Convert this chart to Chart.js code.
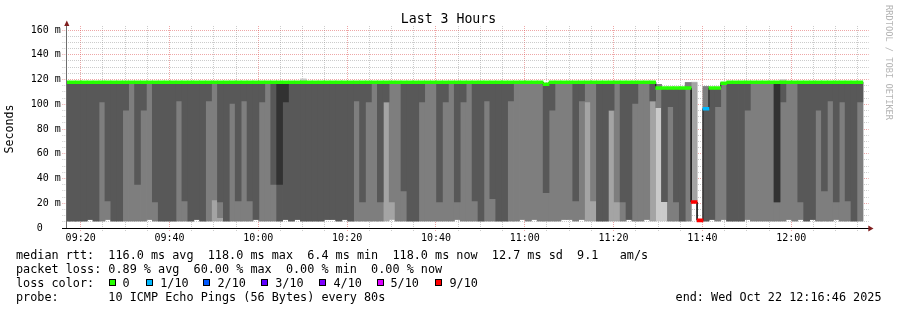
<!DOCTYPE html>
<html><head><meta charset="utf-8">
<script src="https://cdn.jsdelivr.net/npm/chart.js@4.4.1/dist/chart.umd.min.js"></script>
<style>
html,body{margin:0;padding:0;background:#fff;}
#wrap{position:relative;width:897px;height:310px;overflow:hidden;font-family:'DejaVu Sans Mono',monospace;color:#000;}
canvas{position:absolute;left:0;top:0;}
.t{position:absolute;white-space:pre;font-size:11.8px;line-height:14px;}
.box{position:absolute;width:5px;height:5px;border:1px solid #000;top:279px;}
.wm{position:absolute;left:883.5px;top:5px;writing-mode:vertical-rl;font-size:8.7px;line-height:10px;color:#b4b4b4;white-space:pre;}
</style></head><body>
<div id="wrap">
<canvas id="c" width="897" height="310"></canvas>
<div class="t" style="left:0;top:11px;width:897px;text-align:center;font-size:13.2px;line-height:16px">Last 3 Hours</div>
<div class="wm">RRDTOOL / TOBI OETIKER</div>
<div id="legend"></div>
</div>
<script>
// ---------- data (one value per 80 s probe step, 135 steps) ----------
const minPing = [
5.7,5.7,5.7,5.7,7.0,5.7,5.7,7.0,5.7,5.7,
5.7,5.7,5.7,5.7,7.0,5.7,5.7,5.7,5.7,5.7,
5.7,5.7,7.0,5.7,5.7,5.7,5.7,5.7,5.7,5.7,
5.7,5.7,7.0,5.7,5.7,5.7,5.7,7.0,5.7,7.0,
5.7,5.7,5.7,5.7,7.0,7.0,5.7,7.0,5.7,5.7,
5.7,5.7,5.7,5.7,5.7,7.0,5.7,5.7,5.7,5.7,
5.7,5.7,5.7,5.7,5.7,5.7,7.0,5.7,5.7,5.7,
5.7,5.7,5.7,5.7,5.7,5.7,5.7,7.0,5.7,7.0,
5.7,5.7,5.7,5.7,7.0,7.0,5.7,7.0,5.7,5.7,
5.7,5.7,5.7,5.7,5.7,7.0,5.7,5.7,7.0,5.7,
5.7,5.7,5.7,5.7,5.7,5.7,21.0,null,5.7,7.0,
5.7,7.0,5.7,5.7,5.7,7.0,5.7,5.7,5.7,5.7,
5.7,5.7,7.0,5.7,7.0,5.7,7.0,5.7,5.7,5.7,
7.0,5.7,5.7,5.7,5.7];
const ping2 = [
5.7,5.7,5.7,5.7,7.0,5.7,5.7,7.0,5.7,5.7,
5.7,5.7,5.7,5.7,7.0,5.7,5.7,5.7,5.7,5.7,
5.7,5.7,7.0,5.7,5.7,5.7,5.7,5.7,5.7,5.7,
5.7,5.7,7.0,5.7,5.7,5.7,5.7,7.0,5.7,7.0,
5.7,5.7,5.7,5.7,7.0,7.0,5.7,7.0,5.7,5.7,
5.7,5.7,5.7,5.7,5.7,7.0,5.7,5.7,5.7,5.7,
5.7,5.7,5.7,5.7,5.7,5.7,7.0,5.7,5.7,5.7,
5.7,5.7,5.7,5.7,5.7,5.7,5.7,7.0,5.7,7.0,
5.7,5.7,5.7,5.7,7.0,7.0,5.7,7.0,5.7,5.7,
5.7,5.7,5.7,5.7,5.7,7.0,5.7,5.7,7.0,5.7,
97.2,21.3,5.7,5.7,5.7,5.7,21.0,null,5.7,7.0,
5.7,7.0,5.7,5.7,5.7,7.0,5.7,5.7,5.7,5.7,
5.7,5.7,7.0,5.7,7.0,5.7,7.0,5.7,5.7,5.7,
7.0,5.7,5.7,5.7,5.7];
const ping3 = [
5.7,5.7,5.7,5.7,7.0,5.7,5.7,7.0,5.7,5.7,
5.7,5.7,5.7,5.7,7.0,5.7,5.7,5.7,5.7,5.7,
5.7,5.7,7.0,5.7,5.7,22.6,8.3,5.7,5.7,5.7,
5.7,5.7,7.0,5.7,5.7,5.7,5.7,7.0,5.7,7.0,
5.7,5.7,5.7,5.7,7.0,7.0,5.7,7.0,5.7,5.7,
5.7,5.7,5.7,5.7,101.8,21.0,5.7,5.7,5.7,5.7,
5.7,5.7,5.7,5.7,5.7,5.7,7.0,5.7,5.7,5.7,
5.7,5.7,5.7,5.7,5.7,5.7,5.7,7.0,5.7,7.0,
5.7,5.7,5.7,5.7,7.0,7.0,5.7,7.0,101.8,21.8,
5.7,5.7,95.3,21.0,5.7,7.0,5.7,5.7,7.0,102.6,
97.2,21.3,5.7,5.7,5.7,5.7,null,null,5.7,7.0,
5.7,7.0,5.7,5.7,5.7,7.0,5.7,5.7,5.7,5.7,
5.7,5.7,7.0,5.7,7.0,5.7,7.0,5.7,5.7,5.7,
7.0,5.7,5.7,5.7,5.7];
const ping4 = [
5.7,5.7,5.7,5.7,7.0,5.7,101.8,21.8,5.7,5.7,
95.3,117.8,35.3,95.3,117.8,21.0,5.7,5.7,5.7,102.6,
21.8,5.7,7.0,5.7,102.6,117.8,21.0,5.7,100.7,21.8,
102.6,21.8,7.0,101.8,117.8,35.3,5.7,7.0,5.7,7.0,
5.7,5.7,5.7,5.7,7.0,7.0,5.7,7.0,5.7,102.6,
21.0,101.8,117.8,21.0,101.8,117.8,117.8,29.9,5.7,5.7,
101.8,117.8,117.8,21.0,101.8,117.8,21.0,101.8,117.8,21.8,
5.7,102.6,23.7,5.7,5.7,102.6,117.8,117.8,117.8,117.8,
117.8,28.6,95.3,117.8,117.8,117.8,21.8,102.6,117.8,117.8,
5.7,5.7,95.3,117.8,21.0,7.0,100.7,117.8,117.8,102.6,
113.1,21.3,98.0,21.0,5.7,113.1,null,null,5.7,7.0,
98.0,117.0,5.7,5.7,5.7,95.3,117.8,117.8,117.8,117.8,
21.0,101.8,117.8,117.8,21.0,5.7,7.0,95.3,29.9,102.6,
21.0,101.8,21.8,5.7,101.8];
const ping5 = [
117.8,117.8,117.8,117.8,117.8,117.8,117.8,117.8,117.8,117.8,
117.8,117.8,117.8,117.8,117.8,117.8,117.8,117.8,117.8,117.8,
117.8,117.8,117.8,117.8,117.8,117.8,117.8,117.8,117.8,117.8,
117.8,117.8,117.8,117.8,117.8,117.8,35.3,101.8,117.8,117.8,
117.8,117.8,117.8,117.8,117.8,117.8,117.8,117.8,117.8,117.8,
117.8,117.8,117.8,117.8,117.8,117.8,117.8,117.8,117.8,117.8,
117.8,117.8,117.8,117.8,117.8,117.8,117.8,117.8,117.8,117.8,
117.8,117.8,117.8,117.8,117.8,117.8,117.8,117.8,117.8,117.8,
117.8,116.2,117.8,117.8,117.8,117.8,117.8,117.8,117.8,117.8,
117.8,117.8,117.8,117.8,117.8,117.8,117.8,117.8,117.8,117.8,
113.1,113.1,113.1,113.1,113.1,113.1,null,null,96.4,113.1,
113.1,117.0,117.8,117.8,117.8,117.8,117.8,117.8,117.8,117.8,
21.0,117.8,117.8,117.8,117.8,117.8,117.8,117.8,117.8,117.8,
117.8,117.8,117.8,117.8,117.8];
const median = [
117.8,117.8,117.8,117.8,117.8,117.8,117.8,117.8,117.8,117.8,
117.8,117.8,117.8,117.8,117.8,117.8,117.8,117.8,117.8,117.8,
117.8,117.8,117.8,117.8,117.8,117.8,117.8,117.8,117.8,117.8,
117.8,117.8,117.8,117.8,117.8,117.8,117.8,117.8,117.8,117.8,
117.8,117.8,117.8,117.8,117.8,117.8,117.8,117.8,117.8,117.8,
117.8,117.8,117.8,117.8,117.8,117.8,117.8,117.8,117.8,117.8,
117.8,117.8,117.8,117.8,117.8,117.8,117.8,117.8,117.8,117.8,
117.8,117.8,117.8,117.8,117.8,117.8,117.8,117.8,117.8,117.8,
117.8,116.2,117.8,117.8,117.8,117.8,117.8,117.8,117.8,117.8,
117.8,117.8,117.8,117.8,117.8,117.8,117.8,117.8,117.8,117.8,
113.1,113.1,113.1,113.1,113.1,113.1,21.0,6.2,96.4,113.1,
113.1,117.0,117.8,117.8,117.8,117.8,117.8,117.8,117.8,117.8,
117.8,117.8,117.8,117.8,117.8,117.8,117.8,117.8,117.8,117.8,
117.8,117.8,117.8,117.8,117.8];
const ping9 = [
117.8,117.8,117.8,117.8,117.8,117.8,117.8,117.8,117.8,117.8,
117.8,117.8,117.8,117.8,117.8,117.8,117.8,117.8,117.8,117.8,
117.8,117.8,117.8,117.8,117.8,117.8,117.8,117.8,117.8,117.8,
117.8,117.8,117.8,117.8,117.8,117.8,117.8,117.8,117.8,117.8,
117.8,117.8,117.8,117.8,117.8,117.8,117.8,117.8,117.8,117.8,
117.8,117.8,117.8,117.8,117.8,117.8,117.8,117.8,117.8,117.8,
117.8,117.8,117.8,117.8,117.8,117.8,117.8,117.8,117.8,117.8,
117.8,117.8,117.8,117.8,117.8,117.8,117.8,117.8,117.8,117.8,
117.8,116.2,117.8,117.8,117.8,117.8,117.8,117.8,117.8,117.8,
117.8,117.8,117.8,117.8,117.8,117.8,117.8,117.8,117.8,117.8,
116.0,113.1,113.1,113.1,113.1,117.5,117.5,null,114.2,113.1,
113.1,117.5,117.8,117.8,117.8,117.8,117.8,117.8,117.8,117.8,
117.8,117.8,117.8,117.8,117.8,117.8,117.8,117.8,117.8,117.8,
117.8,117.8,117.8,117.8,117.8];
const maxPing = [
117.8,117.8,117.8,117.8,117.8,117.8,117.8,117.8,117.8,117.8,
117.8,117.8,117.8,117.8,117.8,117.8,117.8,117.8,117.8,117.8,
117.8,117.8,117.8,117.8,117.8,117.8,117.8,117.8,117.8,117.8,
117.8,117.8,117.8,117.8,117.8,117.8,117.8,117.8,117.8,117.8,
120.5,117.8,117.8,117.8,117.8,117.8,117.8,117.8,117.8,117.8,
117.8,117.8,117.8,117.8,117.8,117.8,117.8,117.8,117.8,117.8,
117.8,117.8,117.8,117.8,117.8,117.8,117.8,117.8,117.8,117.8,
117.8,117.8,117.8,117.8,117.8,117.8,117.8,117.8,117.8,117.8,
117.8,116.2,117.8,117.8,117.8,117.8,117.8,117.8,117.8,117.8,
117.8,117.8,117.8,117.8,117.8,117.8,117.8,117.8,117.8,117.8,
116.0,113.1,113.1,113.1,113.1,117.5,118.0,null,114.2,113.1,
113.1,117.5,117.8,117.8,117.8,117.8,117.8,117.8,117.8,117.8,
117.8,120.0,117.8,117.8,117.8,117.8,117.8,117.8,117.8,117.8,
117.8,117.8,117.8,117.8,117.8];
const lossCount = [
0,0,0,0,0,0,0,0,0,0, 0,0,0,0,0,0,0,0,0,0, 0,0,0,0,0,0,0,0,0,0,
0,0,0,0,0,0,0,0,0,0, 0,0,0,0,0,0,0,0,0,0, 0,0,0,0,0,0,0,0,0,0,
0,0,0,0,0,0,0,0,0,0, 0,0,0,0,0,0,0,0,0,0, 0,0,0,0,0,0,0,0,0,0,
0,0,0,0,0,0,0,0,0,0, 0,0,0,0,0,0,6,6,1,0, 0,0,0,0,0,0,0,0,0,0,
0,0,0,0,0,0,0,0,0,0, 0,0,0,0,0];

// axis labels
const xMajorTicks = [560,580,600,620,640,660,680,700,720];   // minutes since midnight
const xTickLabels = ['09:20','09:40','10:00','10:20','10:40','11:00','11:20','11:40','12:00'];
const yMajorTicks = [0,20,40,60,80,100,120,140,160];
const yTickLabels = ['0   ','20 m','40 m','60 m','80 m','100 m','120 m','140 m','160 m'];
const lossClasses = [0,1,2,3,4,5,6];
const lossLabels = ['0','1/10','2/10','3/10','4/10','5/10','9/10'];
const lossColors = ['#26ff00','#00b8ff','#0059ff','#5e00ff','#7e00ff','#dd00ff','#ff0000'];

// legend text rows
const statsRow = 'median rtt:  116.0 ms avg  118.0 ms max  6.4 ms min  118.0 ms now  12.7 ms sd  9.1   am/s';
const lossRow = 'packet loss: 0.89 % avg  60.00 % max  0.00 % min  0.00 % now';
const probeRow = 'probe:       10 ICMP Echo Pings (56 Bytes) every 80s';
const endStamp = 'end: Wed Oct 22 12:16:46 2025';

// ---------- time geometry ----------
const STEP = 80/60;                          // minutes per probe step
const axisStart = 9*60 + 16 + 46/60;         // 09:16:46
const axisEnd = axisStart + 180;             // 12:16:46
const firstStepEnd = 9*60 + 17 + 28/60;
const stepCenter = median.map((_, k) => firstStepEnd - STEP/2 + k*STEP);

function floatBars(lo, hi) {
  const out = [];
  for (let k = 0; k < lo.length; k++) {
    const a = lo[k], b = hi[k];
    if (a == null || b == null || !(b > a)) continue;
    out.push({x: stepCenter[k], y: [a, b]});
  }
  return out;
}
function lossColor(n) {
  let c = lossColors[0];
  for (let i = 0; i < lossClasses.length; i++) if (n >= lossClasses[i]) c = lossColors[i];
  return c;
}
const medianLine = [];
const bandBars = [];
median.forEach((m, k) => {
  if (m == null) { medianLine.push({x: stepCenter[k], y: null}); return; }
  medianLine.push({x: stepCenter[k] - STEP/2, y: m});
  medianLine.push({x: stepCenter[k] + STEP/2, y: m});
  bandBars.push({x: stepCenter[k], y: [m - 1.2, m + 1.2], loss: lossCount[k]});
});

const xMinor = [];
for (let v = 560; v <= 735; v += 5) xMinor.push(v);

const MONO = "'DejaVu Sans Mono', monospace";
const minorGrid = 'rgba(143,143,143,0.45)';
const majorGrid = 'rgba(222,79,79,0.5)';

const barCommon = {type: 'bar', grouped: false, clip: 0, barPercentage: 1, categoryPercentage: 1, borderWidth: 0};

const axesPlugin = {
  id: 'rrdAxes',
  afterDraw(chart) {
    const {ctx, chartArea: a} = chart;
    const y0 = Math.round(chart.scales.y.getPixelForValue(0));
    ctx.save();
    ctx.fillStyle = '#6e6e6e';
    ctx.fillRect(Math.round(a.left), a.top - 7, 1, y0 - a.top + 7);
    ctx.fillStyle = '#000';
    ctx.fillRect(Math.round(a.left) - 4, y0, a.right - a.left + 9, 1);
    ctx.fillStyle = '#801f1f';
    const ax = a.left + 0.5;
    ctx.beginPath();
    ctx.moveTo(ax - 2.6, a.top - 4); ctx.lineTo(ax + 2.6, a.top - 4); ctx.lineTo(ax, a.top - 9.5); ctx.closePath(); ctx.fill();
    const bx = a.right + 2.6;
    ctx.beginPath();
    ctx.moveTo(bx, y0 - 2.5); ctx.lineTo(bx, y0 + 3.5); ctx.lineTo(bx + 5.2, y0 + 0.5); ctx.closePath(); ctx.fill();
    ctx.restore();
  }
};

const xGrid = {
  color: c => (xMajorTicks.includes(Math.round(c.tick.value)) ? majorGrid : minorGrid),
  lineWidth: 1, tickLength: 3, offset: false, tickBorderDash: [1, 1]
};
const yGrid = {
  color: c => (c.tick.value % 20 === 0 ? majorGrid : minorGrid),
  lineWidth: 1, tickLength: 4, tickBorderDash: [1, 1]
};

new Chart(document.getElementById('c'), {
  type: 'bar',
  data: {
    datasets: [
      Object.assign({label: 'smoke 1', data: floatBars(minPing, maxPing), backgroundColor: '#cacaca', order: 10}, barCommon),
      Object.assign({label: 'smoke 2', data: floatBars(ping2, ping9), backgroundColor: '#a4a4a4', order: 9}, barCommon),
      Object.assign({label: 'smoke 3', data: floatBars(ping3, ping9), backgroundColor: '#7e7e7e', order: 8}, barCommon),
      Object.assign({label: 'smoke 4', data: floatBars(ping4, median), backgroundColor: '#585858', order: 7}, barCommon),
      Object.assign({label: 'smoke 5', data: floatBars(ping5, median), backgroundColor: '#323232', order: 6}, barCommon),
      {type: 'line', label: 'median', data: medianLine, borderColor: '#202020', borderWidth: 1,
       pointRadius: 0, tension: 0, spanGaps: false, clip: 0, order: 5},
      Object.assign({label: 'loss', data: bandBars, order: 4,
        backgroundColor: c => lossColor(c.raw ? c.raw.loss : 0)}, barCommon)
    ]
  },
  options: {
    responsive: false, animation: false, devicePixelRatio: 1,
    layout: {padding: {left: 0, top: 26, right: 0, bottom: 0}},
    plugins: {legend: {display: false}, tooltip: {enabled: false}, title: {display: false}},
    scales: {
      x: {
        type: 'linear', position: 'bottom', min: axisStart, max: axisEnd, bounds: 'data',
        offset: false, z: 1,
        afterBuildTicks: s => { s.ticks = xMinor.map(v => ({value: v})); },
        afterFit: s => { s.height = 82; },
        ticks: {autoSkip: false, maxRotation: 0, minRotation: 0, padding: 1, color: '#000',
          font: {family: MONO, size: 10},
          callback: v => { const i = xMajorTicks.indexOf(Math.round(v)); return i >= 0 ? xTickLabels[i] : ''; }},
        grid: xGrid,
        border: {display: false, dash: [1, 1]}
      },
      x2: {
        type: 'linear', position: 'top', min: axisStart, max: axisEnd, bounds: 'data',
        offset: false, z: 1,
        afterBuildTicks: s => { s.ticks = xMinor.map(v => ({value: v})); },
        afterFit: s => { s.height = 4; },
        ticks: {display: false},
        grid: Object.assign({}, xGrid, {drawOnChartArea: false, tickLength: 4}),
        border: {display: false, dash: [1, 1]}
      },
      y: {
        type: 'linear', position: 'left', min: 0, max: 160, z: 1,
        afterFit: s => { s.width = 66.3; },
        ticks: {stepSize: 5, autoSkip: false, padding: 1.5, color: '#000', font: {family: MONO, size: 10},
          callback: v => { const i = yMajorTicks.indexOf(v); return i >= 0 ? yTickLabels[i] : ''; }},
        grid: yGrid,
        border: {display: false, dash: [1, 1]},
        title: {display: true, text: 'Seconds', color: '#000', font: {family: MONO, size: 11.63},
          padding: {top: 3, bottom: 0}}
      },
      y2: {
        type: 'linear', position: 'right', min: 0, max: 160, z: 1,
        afterFit: s => { s.width = 31.3; },
        ticks: {stepSize: 5, autoSkip: false, display: false},
        grid: Object.assign({}, yGrid, {drawOnChartArea: false, tickLength: 3}),
        border: {display: false, dash: [1, 1]}
      }
    }
  },
  plugins: [axesPlugin]
});

// ---------- legend text (rrdtool style) ----------
const legend = document.getElementById('legend');
function txt(x, top, s, right) {
  const d = document.createElement('div');
  d.className = 't'; d.style.top = top + 'px'; d.textContent = s;
  if (right) d.style.right = x + 'px'; else d.style.left = x + 'px';
  legend.appendChild(d);
}
const rows = [247.5, 261.5, 275.5, 289.5];
txt(16, rows[0], statsRow);
txt(16, rows[1], lossRow);
txt(16, rows[2], 'loss color:');
const boxX = [109, 145.7, 203, 261, 319, 376.7, 435];
const labX = [122.5, 160.2, 217.5, 275.2, 333.5, 390.5, 449.5];
lossLabels.forEach((l, i) => {
  const b = document.createElement('div');
  b.className = 'box'; b.style.left = boxX[i] + 'px'; b.style.background = lossColors[i];
  legend.appendChild(b);
  txt(labX[i], rows[2], l);
});
txt(16, rows[3], probeRow);
txt(15.5, rows[3], endStamp, true);
</script>
</body></html>
